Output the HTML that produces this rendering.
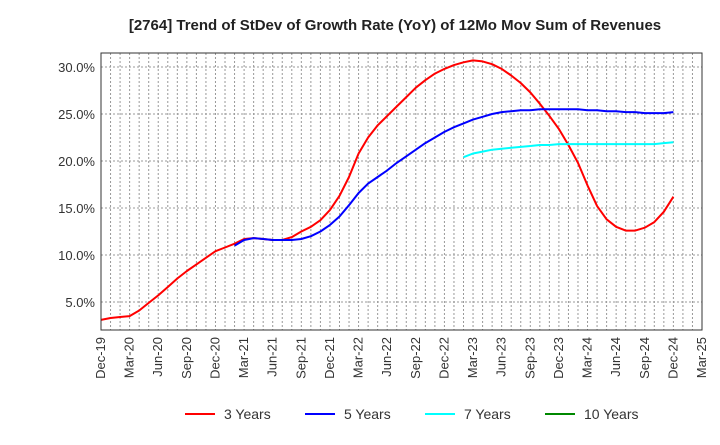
<!DOCTYPE html>
<html><head><meta charset="utf-8"><style>
body{margin:0;background:#fff;font-family:"Liberation Sans",Arial,sans-serif}
svg text{font-family:"Liberation Sans",Arial,sans-serif}
</style></head><body>
<svg id="c" width="720" height="440" viewBox="0 0 720 440">
<text x="395" y="30" text-anchor="middle" font-size="15" font-weight="bold" fill="#222">[2764]  Trend of StDev of Growth Rate (YoY) of 12Mo Mov Sum of Revenues</text>
<g id="grid"></g>
<g id="ylab"></g>
<g id="xlab"></g>
<g id="series"></g>
<rect x="101" y="53" width="601" height="277" fill="none" stroke="#333"/>
<g>
<g><line x1="185" y1="414" x2="215" y2="414" stroke="#f00" stroke-width="2"/><text x="224" y="419" font-size="14" fill="#333">3 Years</text></g>
<g><line x1="305" y1="414" x2="335" y2="414" stroke="#00f" stroke-width="2"/><text x="344" y="419" font-size="14" fill="#333">5 Years</text></g>
<g><line x1="425" y1="414" x2="455" y2="414" stroke="#0ff" stroke-width="2"/><text x="464" y="419" font-size="14" fill="#333">7 Years</text></g>
<g><line x1="545" y1="414" x2="575" y2="414" stroke="#080" stroke-width="2"/><text x="584" y="419" font-size="14" fill="#333">10 Years</text></g>
</g>
</svg>
<script>
const xTickLabels=["Dec-19","Mar-20","Jun-20","Sep-20","Dec-20","Mar-21","Jun-21","Sep-21","Dec-21","Mar-22","Jun-22","Sep-22","Dec-22","Mar-23","Jun-23","Sep-23","Dec-23","Mar-24","Jun-24","Sep-24","Dec-24","Mar-25"];
const yTicks=[5,10,15,20,25,30];
const s3Start=0;
const s3=[3.1,3.3,3.4,3.5,4.1,4.9,5.7,6.6,7.5,8.3,9.0,9.7,10.4,10.8,11.2,11.7,11.8,11.7,11.6,11.6,11.9,12.5,13.0,13.7,14.8,16.3,18.3,20.8,22.5,23.8,24.8,25.8,26.8,27.8,28.6,29.3,29.8,30.2,30.5,30.7,30.6,30.3,29.8,29.1,28.3,27.3,26.1,24.8,23.4,21.7,19.8,17.4,15.2,13.8,13.0,12.6,12.6,12.9,13.5,14.6,16.2];
const s5Start=14;
const s5=[11.0,11.6,11.8,11.7,11.6,11.6,11.6,11.7,12.0,12.5,13.2,14.1,15.3,16.6,17.6,18.3,19.0,19.8,20.5,21.2,21.9,22.5,23.1,23.6,24.0,24.4,24.7,25.0,25.2,25.3,25.4,25.4,25.5,25.5,25.5,25.5,25.5,25.4,25.4,25.3,25.3,25.2,25.2,25.1,25.1,25.1,25.2];
const s7Start=38;
const s7=[20.4,20.8,21.0,21.2,21.3,21.4,21.5,21.6,21.7,21.7,21.8,21.8,21.8,21.8,21.8,21.8,21.8,21.8,21.8,21.8,21.8,21.9,22.0];
const s10=[];
const NS="http://www.w3.org/2000/svg";
const L=101,R=702,T=53,B=330,nM=63;
const xs=i=>L+(R-L)*i/nM;
const ys=v=>349-v*9.4;
function mk(t,a,p){const e=document.createElementNS(NS,t);for(const k in a)e.setAttribute(k,a[k]);p.appendChild(e);return e;}
const grid=document.getElementById('grid'),xl=document.getElementById('xlab'),yl=document.getElementById('ylab'),sg=document.getElementById('series');
for(let m=1;m<nM;m++){const l=mk('line',{x1:xs(m),x2:xs(m),y1:T,y2:B,stroke:'#999','stroke-dasharray':'2,2','stroke-width':1},grid);

}
yTicks.forEach(v=>{const l=mk('line',{x1:L,x2:R,y1:ys(v),y2:ys(v),stroke:'#999','stroke-dasharray':'2,2'},grid);


const t=mk('text',{x:L-6,y:ys(v)+5,'text-anchor':'end','font-size':13,fill:'#333'},yl);t.textContent=v.toFixed(1)+'%';

});
xTickLabels.forEach((s,i)=>{const x=xs(i*3)+4;const t=mk('text',{x:x,y:337,'text-anchor':'end','font-size':13,fill:'#333',transform:`rotate(-90 ${x} 337)`},xl);t.textContent=s;

});
function draw(arr,start,col,name){if(!arr.length)return;const d=arr.map((v,i)=>(i?'L':'M')+xs(start+i).toFixed(1)+' '+ys(v).toFixed(1)).join(' ');
const p=mk('path',{d:d,fill:'none',stroke:col,'stroke-width':2,'stroke-linejoin':'round'},sg);

}
draw(s3,s3Start,'#f00','line-3-years');
draw(s5,s5Start,'#00f','line-5-years');
draw(s7,s7Start,'#0ff','line-7-years');
draw(s10,0,'#080','line-10-years');
</script>
</body></html>
